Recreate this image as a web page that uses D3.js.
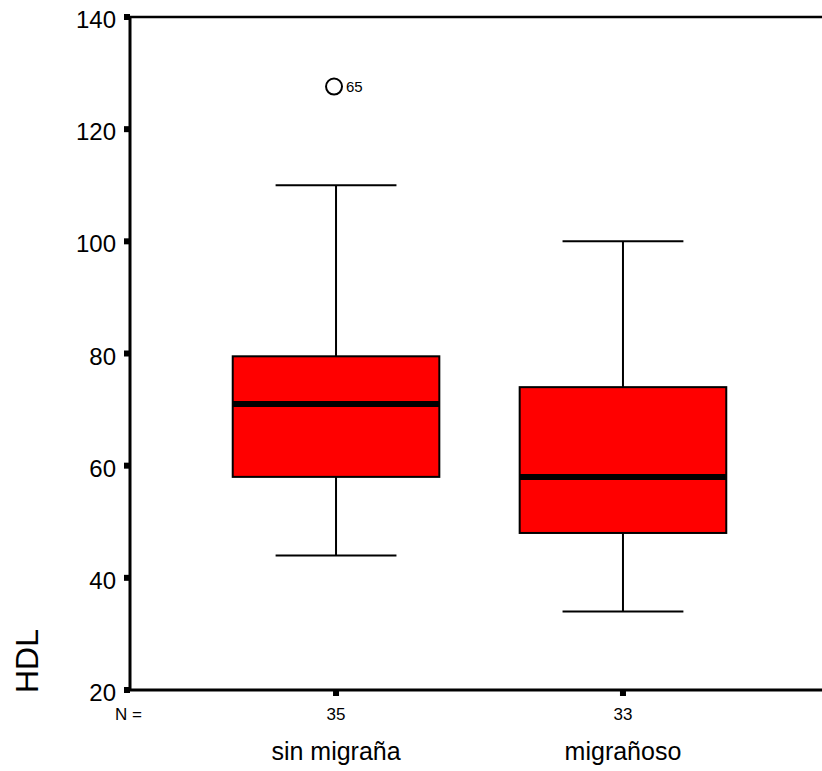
<!DOCTYPE html>
<html lang="es">
<head>
<meta charset="UTF-8">
<title>HDL boxplot</title>
<style>
  body { margin: 0; background: #fff; }
  svg text { font-family: "Liberation Sans", Arial, Helvetica, sans-serif; fill: #000; }
</style>
<script src="https://d3js.org/d3.v7.min.js"></script>
</head>
<body>
<script>
// data
const groups = ["sin migraña", "migrañoso"];
const counts = [35, 33];
const whiskerLow = [44, 34];
const q1 = [58, 48];
const medians = [71, 58];
const q3 = [79.5, 74];
const whiskerHigh = [110, 100];
const outliers = [{group: "sin migraña", value: 127.6, label: "65"}];
const yTicks = [20, 40, 60, 80, 100, 120, 140];

const W = 822, H = 771;
const plotLeft = 130, plotTop = 17, plotBottom = 690, plotRight = 829;

const svg = d3.select("body").append("svg")
  .attr("width", W).attr("height", H);

const y = d3.scaleLinear().domain([20, 140]).range([plotBottom, plotTop]);
const x = d3.scalePoint().domain(groups).range([plotLeft, plotRight]).padding(0.718);
const boxW = x.step() * 0.72;
const capW = boxW * 0.585;

// frame: top line, left and bottom axes
svg.append("line").attr("x1", plotLeft).attr("x2", W).attr("y1", plotTop).attr("y2", plotTop)
  .attr("stroke", "#000").attr("stroke-width", 2.5);
svg.append("line").attr("x1", plotLeft).attr("x2", plotLeft).attr("y1", plotTop).attr("y2", plotBottom + 1)
  .attr("stroke", "#000").attr("stroke-width", 3);
svg.append("line").attr("x1", plotLeft).attr("x2", W).attr("y1", plotBottom).attr("y2", plotBottom)
  .attr("stroke", "#000").attr("stroke-width", 3);

// y ticks
const yt = svg.append("g");
yt.selectAll("rect").data(yTicks).join("rect")
  .attr("x", plotLeft - 6).attr("y", d => y(d) - 3).attr("width", 6).attr("height", 6)
  .attr("fill", "#000");
yt.selectAll("text").data(yTicks).join("text")
  .attr("x", 116).attr("y", d => y(d) + 11)
  .attr("text-anchor", "end").attr("font-size", 24)
  .text(d => d);

// x ticks
svg.selectAll(".xtick").data(groups).join("rect").attr("class", "xtick")
  .attr("x", d => x(d) - 3).attr("y", plotBottom).attr("width", 6).attr("height", 6)
  .attr("fill", "#000");

svg.append("text").attr("x", 115).attr("y", 720).attr("font-size", 17).text("N =");
svg.selectAll(".ncount").data(groups).join("text").attr("class", "ncount")
  .attr("x", d => x(d)).attr("y", 720).attr("text-anchor", "middle")
  .attr("font-size", 17).text((d, i) => counts[i]);
svg.selectAll(".cat").data(groups).join("text").attr("class", "cat")
  .attr("x", d => x(d)).attr("y", 760).attr("text-anchor", "middle")
  .attr("font-size", 25).text(d => d);

// y title
svg.append("text")
  .attr("transform", "translate(38,661) rotate(-90)")
  .attr("text-anchor", "middle").attr("font-size", 32).text("HDL");

// boxes
const box = svg.selectAll(".box").data(groups).join("g").attr("class", "box");
box.append("line")
  .attr("x1", d => x(d)).attr("x2", d => x(d))
  .attr("y1", (d, i) => y(whiskerHigh[i])).attr("y2", (d, i) => y(whiskerLow[i]))
  .attr("stroke", "#000").attr("stroke-width", 2);
box.append("line")
  .attr("x1", d => x(d) - capW / 2).attr("x2", d => x(d) + capW / 2)
  .attr("y1", (d, i) => y(whiskerHigh[i])).attr("y2", (d, i) => y(whiskerHigh[i]))
  .attr("stroke", "#000").attr("stroke-width", 2);
box.append("line")
  .attr("x1", d => x(d) - capW / 2).attr("x2", d => x(d) + capW / 2)
  .attr("y1", (d, i) => y(whiskerLow[i])).attr("y2", (d, i) => y(whiskerLow[i]))
  .attr("stroke", "#000").attr("stroke-width", 2);
box.append("rect")
  .attr("x", d => x(d) - boxW / 2).attr("width", boxW)
  .attr("y", (d, i) => y(q3[i])).attr("height", (d, i) => y(q1[i]) - y(q3[i]))
  .attr("fill", "#ff0000").attr("stroke", "#000").attr("stroke-width", 2);
box.append("line")
  .attr("x1", d => x(d) - boxW / 2).attr("x2", d => x(d) + boxW / 2)
  .attr("y1", (d, i) => y(medians[i])).attr("y2", (d, i) => y(medians[i]))
  .attr("stroke", "#000").attr("stroke-width", 6);

// outliers
const out = svg.selectAll(".out").data(outliers).join("g").attr("class", "out");
out.append("circle")
  .attr("cx", d => x(d.group) - 2).attr("cy", d => y(d.value)).attr("r", 8)
  .attr("fill", "none").attr("stroke", "#000").attr("stroke-width", 2);
out.append("text")
  .attr("x", d => x(d.group) + 10).attr("y", d => y(d.value) + 5)
  .attr("font-size", 15).text(d => d.label);
</script>
</body>
</html>
